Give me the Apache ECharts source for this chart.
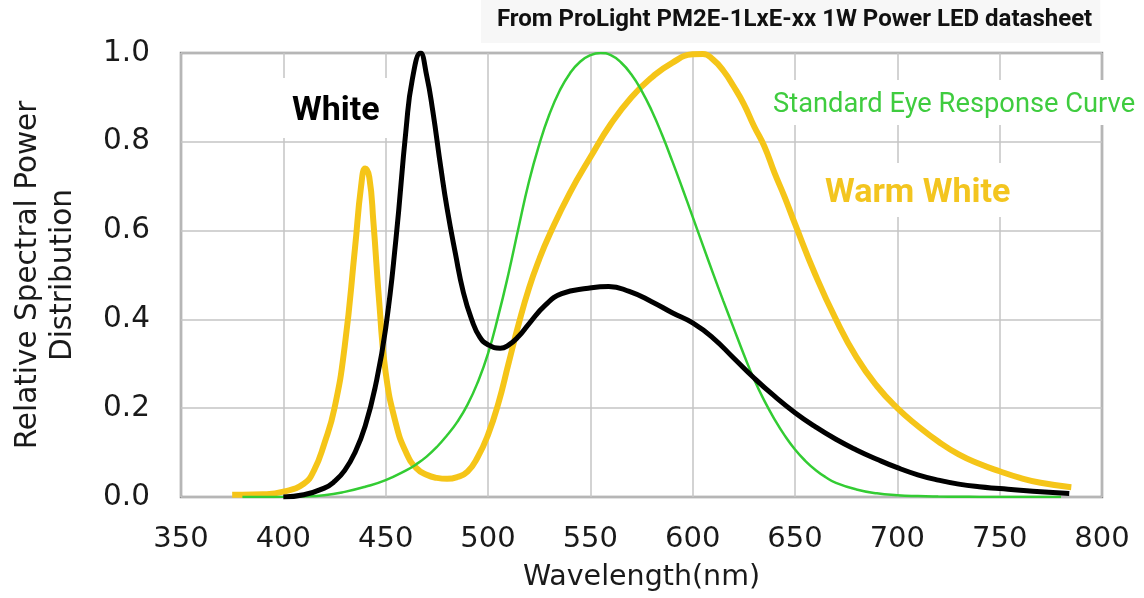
<!DOCTYPE html>
<html>
<head>
<meta charset="utf-8">
<script src="https://cdn.jsdelivr.net/npm/echarts@6/dist/echarts.min.js"></script>
<style>
  html, body { margin: 0; padding: 0; background: #fff; }
  #chart { width: 1144px; height: 598px; }
</style>
</head>
<body>
<div id="chart"></div>
<script>
// wavelength (nm) / relative power
const whiteWl = [400, 410, 420, 425, 430, 435, 440, 445, 450, 455, 460, 463, 467, 470, 473, 477, 480, 484, 488, 492, 496, 500, 506, 510, 515, 520, 528, 536, 549, 559, 569, 580, 590, 600, 610, 620, 630, 640, 650, 660, 670, 680, 690, 700, 710, 720, 730, 740, 750, 760, 770, 784];
const whiteVal = [0.0, 0.005, 0.02, 0.035, 0.06, 0.1, 0.16, 0.25, 0.38, 0.58, 0.83, 0.94, 1.0, 0.95, 0.87, 0.74, 0.65, 0.55, 0.46, 0.4, 0.36, 0.343, 0.335, 0.342, 0.362, 0.39, 0.432, 0.458, 0.47, 0.474, 0.463, 0.44, 0.415, 0.392, 0.358, 0.313, 0.268, 0.227, 0.19, 0.158, 0.13, 0.106, 0.085, 0.066, 0.05, 0.038, 0.029, 0.023, 0.019, 0.015, 0.012, 0.008];

const warmWl = [375, 380, 390, 400, 410, 415, 420, 425, 430, 435, 438, 440, 442, 444, 447, 450, 455, 460, 465, 470, 475, 480, 485, 490, 495, 500, 505, 510, 515, 520, 525, 530, 540, 550, 560, 570, 580, 590, 600, 605, 610, 615, 620, 625, 630, 635, 640, 645, 650, 660, 670, 680, 690, 700, 710, 720, 730, 740, 750, 760, 770, 785];
const warmVal = [0.005, 0.005, 0.006, 0.012, 0.03, 0.06, 0.12, 0.2, 0.34, 0.56, 0.7, 0.74, 0.72, 0.62, 0.43, 0.28, 0.165, 0.1, 0.065, 0.05, 0.043, 0.041, 0.045, 0.057, 0.09, 0.14, 0.21, 0.3, 0.39, 0.47, 0.535, 0.59, 0.685, 0.765, 0.84, 0.9, 0.945, 0.978, 0.997, 0.998, 0.985, 0.96, 0.925, 0.885, 0.835, 0.79, 0.73, 0.675, 0.615, 0.5, 0.4, 0.315, 0.25, 0.2, 0.16, 0.125, 0.096, 0.075, 0.058, 0.043, 0.032, 0.022];

// standard photopic eye response
const eyeWl = [380, 390, 400, 410, 420, 430, 440, 450, 460, 465, 470, 475, 480, 485, 490, 495, 500, 505, 510, 515, 520, 525, 530, 535, 540, 545, 550, 555, 560, 565, 570, 575, 580, 585, 590, 595, 600, 605, 610, 615, 620, 625, 630, 635, 640, 645, 650, 655, 660, 665, 670, 680, 690, 700, 710, 720, 730, 740, 750, 760, 770, 780];
const eyeVal = [0.00004, 0.00012, 0.0004, 0.0012, 0.004, 0.0116, 0.023, 0.038, 0.06, 0.0739, 0.091, 0.1126, 0.139, 0.1693, 0.208, 0.2586, 0.323, 0.4073, 0.503, 0.6082, 0.71, 0.7932, 0.862, 0.9149, 0.954, 0.9803, 0.995, 1.0, 0.995, 0.9786, 0.952, 0.9154, 0.87, 0.8163, 0.757, 0.6949, 0.631, 0.5668, 0.503, 0.4412, 0.381, 0.321, 0.265, 0.217, 0.175, 0.1382, 0.107, 0.0816, 0.061, 0.0446, 0.032, 0.017, 0.0082, 0.0041, 0.0021, 0.00105, 0.00052, 0.00025, 0.00012, 0.00006, 0.00003, 0.000015];

const zip = (xs, ys) => xs.map((x, i) => [x, ys[i]]);

const labelFont = 'Roboto';
const axisFont = 'DejaVu Sans';
const chart = echarts.init(document.getElementById('chart'));

chart.setOption({
  animation: false,
  backgroundColor: '#fff',
  grid: {
    left: 181, right: 42, top: 53, bottom: 101,
    outerBoundsMode: 'none',
    show: true, borderColor: '#8a8a8a', borderWidth: 2.5
  },
  title: [
    {
      text: 'From ProLight PM2E-1LxE-xx 1W Power LED datasheet',
      left: 481, top: 0,
      padding: [8, 8, 11, 16],
      backgroundColor: '#f7f7f7',
      textStyle: { fontFamily: labelFont, fontSize: 24, lineHeight: 24, fontWeight: 'bold', color: '#111' }
    },
    {
      text: 'White',
      left: 240, top: 78,
      padding: [16, 10, 10, 52],
      backgroundColor: '#fff',
      textStyle: { fontFamily: labelFont, fontSize: 34, lineHeight: 34, fontWeight: 'bold', color: '#000' }
    },
    {
      text: 'Standard Eye Response Curve',
      left: 765, top: 80,
      padding: [11, 20, 6, 8],
      backgroundColor: '#fff',
      textStyle: { fontFamily: labelFont, fontSize: 27.3, lineHeight: 28, fontWeight: 'normal', color: '#3fcc3f' }
    },
    {
      text: 'Warm White',
      left: 815, top: 163,
      padding: [13, 8, 7, 10],
      backgroundColor: '#fff',
      textStyle: { fontFamily: labelFont, fontSize: 34, lineHeight: 34, fontWeight: 'bold', color: '#f3c51f' }
    }
  ],
  xAxis: {
    type: 'value',
    min: 350, max: 800, interval: 50,
    name: 'Wavelength(nm)',
    nameLocation: 'middle',
    nameGap: 66,
    nameTextStyle: { fontFamily: axisFont, fontSize: 28.5, color: '#1a1a1a' },
    axisLine: { show: false },
    axisTick: { show: false },
    axisLabel: { fontFamily: axisFont, fontSize: 29, color: '#1a1a1a', margin: 28 },
    splitLine: { lineStyle: { color: '#c4c4c4', width: 1.5 } }
  },
  yAxis: {
    type: 'value',
    min: 0, max: 1, interval: 0.2,
    name: 'Relative Spectral Power\nDistribution',
    nameLocation: 'middle',
    nameGap: 100,
    nameTextStyle: { fontFamily: axisFont, fontSize: 29.5, color: '#1a1a1a', lineHeight: 35 },
    axisLine: { show: false },
    axisTick: { show: false },
    axisLabel: {
      fontFamily: axisFont, fontSize: 29.5, color: '#1a1a1a', margin: 31,
      formatter: v => v.toFixed(1)
    },
    splitLine: { lineStyle: { color: '#c4c4c4', width: 1.5 } }
  },
  series: [
    {
      name: 'Warm White',
      type: 'line',
      data: zip(warmWl, warmVal),
      smooth: 0.5,
      showSymbol: false,
      z: 2,
      lineStyle: { color: '#f5c518', width: 6 }
    },
    {
      name: 'Standard Eye Response Curve',
      type: 'line',
      data: zip(eyeWl, eyeVal),
      smooth: 0.5,
      showSymbol: false,
      z: 3,
      lineStyle: { color: '#33cc33', width: 2.5 }
    },
    {
      name: 'White',
      type: 'line',
      data: zip(whiteWl, whiteVal),
      smooth: 0.5,
      showSymbol: false,
      z: 4,
      lineStyle: { color: '#000', width: 5 }
    }
  ]
});

window.addEventListener('resize', function() {
  chart.resize();
});
</script>
</body>
</html>
